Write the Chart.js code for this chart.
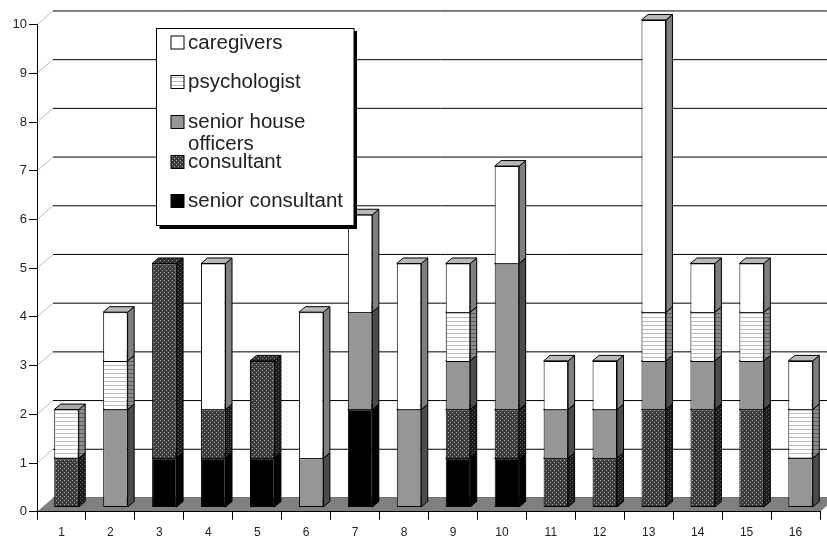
<!DOCTYPE html>
<html>
<head>
<meta charset="utf-8">
<style>
  html, body { margin: 0; padding: 0; background: #fff; }
  canvas { display: block; filter: blur(0.45px); }
</style>
<script src="https://cdn.jsdelivr.net/npm/chart.js@4/dist/chart.umd.js"></script>
</head>
<body>
<canvas id="myChart" width="827" height="536"></canvas>
<script>
const patients = ["1","2","3","4","5","6","7","8","9","10","11","12","13","14","15","16"];
const seniorConsultant = [null,null,1,1,1,null,2,null,1,1,null,null,null,null,null,null];
const consultant = [1,null,4,1,2,null,null,null,1,1,1,1,2,2,2,null];
const seniorHouseOfficers = [null,2,null,null,null,1,2,2,1,3,1,1,1,1,1,1];
const psychologist = [1,1,null,null,null,null,null,null,1,null,null,null,1,1,1,1];
const caregivers = [null,1,null,3,null,3,2,3,1,2,1,1,6,1,1,1];
const yTicks = [0,1,2,3,4,5,6,7,8,9,10];

const FONT = "'Liberation Sans', Arial, sans-serif";
const wallDx = 16;
const barShift = 5;
const depthX = 6.5;
const depthY = 5.5;

function makePattern(size, paint) {
  const c = document.createElement("canvas");
  c.width = size;
  c.height = size;
  paint(c.getContext("2d"));
  return document.createElement("canvas").getContext("2d").createPattern(c, "repeat");
}
function stripes(bg, line) {
  return makePattern(4, g => {
    g.fillStyle = bg; g.fillRect(0, 0, 4, 4);
    g.fillStyle = line; g.fillRect(0, 1, 4, 1);
  });
}
function dots(bg, dot) {
  return makePattern(4, g => {
    g.fillStyle = bg; g.fillRect(0, 0, 4, 4);
    g.fillStyle = dot; g.fillRect(0, 0, 1, 1); g.fillRect(2, 2, 1, 1);
  });
}

const styles = {
  caregivers: { front: "#ffffff", side: "#7f7f7f", top: "#b8b8b8" },
  psychologist: { front: stripes("#ffffff", "#bcbcbc"), side: stripes("#8c8c8c", "#5a5a5a"), top: "#a8a8a8" },
  sho: { front: "#969696", side: "#4b4b4b", top: "#707070" },
  consultant: { front: dots("#3c3c3c", "#a8a8a8"), side: dots("#1c1c1c", "#666666"), top: dots("#333333", "#888888") },
  senior: { front: "#000000", side: "#000000", top: "#000000" }
};

const series = [
  { label: "senior consultant", data: seniorConsultant, face: styles.senior },
  { label: "consultant", data: consultant, face: styles.consultant },
  { label: "senior house officers", data: seniorHouseOfficers, face: styles.sho },
  { label: "psychologist", data: psychologist, face: styles.psychologist },
  { label: "caregivers", data: caregivers, face: styles.caregivers }
];

// only the lowest segment of a stack keeps its bottom edge, the others share one line
function skipEdge(c) {
  const lower = series.slice(0, c.datasetIndex).some(s => s.data[c.dataIndex] !== null);
  return lower ? "bottom" : false;
}

const datasets = series.map(d => ({
  label: d.label,
  data: d.data,
  face: d.face,
  yAxisID: "yBar",
  backgroundColor: d.face.front,
  borderColor: "#000",
  borderWidth: 1,
  borderSkipped: skipEdge,
  barPercentage: 0.5,
  categoryPercentage: 1,
  clip: false
}));

const legendRows = [
  { lines: ["caregivers"], y: 42.5, face: styles.caregivers.front },
  { lines: ["psychologist"], y: 82, face: styles.psychologist.front },
  { lines: ["senior house", "officers"], y: 122, face: styles.sho.front },
  { lines: ["consultant"], y: 162, face: styles.consultant.front },
  { lines: ["senior consultant"], y: 201, face: styles.senior.front }
];

const bars3d = {
  id: "bars3d",
  afterDatasetsUpdate(chart) {
    chart.data.datasets.forEach((ds, i) => {
      chart.getDatasetMeta(i).data.forEach(el => { el.x += barShift; });
    });
  },
  beforeDraw(chart) {
    const { ctx, scales } = chart;
    const y = scales.y, wall = scales.yWall, area = chart.chartArea;
    ctx.save();
    // wall lines and the light diagonals on the left side
    yTicks.forEach(v => {
      ctx.strokeStyle = "#000";
      ctx.lineWidth = 1;
      ctx.beginPath();
      ctx.moveTo(area.left + wallDx, wall.getPixelForValue(v));
      ctx.lineTo(area.right + wallDx, wall.getPixelForValue(v));
      ctx.stroke();
      if (v > 0) {
        ctx.strokeStyle = "#bdbdbd";
        ctx.beginPath();
        ctx.moveTo(area.left, y.getPixelForValue(v));
        ctx.lineTo(area.left + wallDx, wall.getPixelForValue(v));
        ctx.stroke();
      }
    });
    // floor
    ctx.fillStyle = "#7f7f7f";
    ctx.beginPath();
    ctx.moveTo(area.left, y.getPixelForValue(0));
    ctx.lineTo(area.left + wallDx, wall.getPixelForValue(0));
    ctx.lineTo(area.right + wallDx, wall.getPixelForValue(0));
    ctx.lineTo(area.right, y.getPixelForValue(0));
    ctx.closePath();
    ctx.fill();
    ctx.restore();
  },
  beforeDatasetsDraw(chart) {
    const ctx = chart.ctx;
    ctx.save();
    ctx.strokeStyle = "#000";
    ctx.lineWidth = 1;
    chart.data.datasets.forEach((ds, i) => {
      chart.getDatasetMeta(i).data.forEach((el, n) => {
        if (ds.data[n] === null) return;
        const r = el.x + el.width / 2, l = el.x - el.width / 2;
        ctx.fillStyle = ds.face.side;
        ctx.beginPath();
        ctx.moveTo(r, el.base);
        ctx.lineTo(r + depthX, el.base - depthY);
        ctx.lineTo(r + depthX, el.y - depthY);
        ctx.lineTo(r, el.y);
        ctx.closePath();
        ctx.fill();
        ctx.stroke();
        ctx.fillStyle = ds.face.top;
        ctx.beginPath();
        ctx.moveTo(l, el.y);
        ctx.lineTo(l + depthX, el.y - depthY);
        ctx.lineTo(r + depthX, el.y - depthY);
        ctx.lineTo(r, el.y);
        ctx.closePath();
        ctx.fill();
        ctx.stroke();
      });
    });
    ctx.restore();
  },
  afterDraw(chart) {
    const ctx = chart.ctx;
    ctx.save();
    ctx.fillStyle = "#000";
    ctx.fillRect(159.5, 31, 197.5, 198);
    ctx.fillStyle = "#fff";
    ctx.strokeStyle = "#000";
    ctx.lineWidth = 1;
    ctx.fillRect(156.5, 28.5, 197.5, 197);
    ctx.strokeRect(156.5, 28.5, 197.5, 197);
    ctx.font = "20.5px " + FONT;
    ctx.textBaseline = "middle";
    legendRows.forEach(row => {
      ctx.fillStyle = row.face;
      ctx.fillRect(171, row.y - 6.5, 13, 13);
      ctx.strokeRect(171, row.y - 6.5, 13, 13);
      ctx.fillStyle = "#222";
      row.lines.forEach((t, k) => ctx.fillText(t, 188, row.y + 0.5 + k * 22));
    });
    ctx.restore();
  }
};

new Chart(document.getElementById("myChart"), {
  type: "bar",
  data: { labels: patients, datasets: datasets },
  plugins: [bars3d],
  options: {
    responsive: false,
    animation: false,
    devicePixelRatio: 1,
    layout: { autoPadding: false, padding: { top: 24.7, right: 7, left: 0, bottom: 0 } },
    plugins: { legend: { display: false }, tooltip: { enabled: false } },
    scales: {
      x: {
        stacked: true,
        border: { color: "#000", width: 1 },
        grid: { drawOnChartArea: false, color: "#000", tickLength: 8 },
        ticks: { color: "#222", font: { family: FONT, size: 12 }, maxRotation: 0, autoSkip: false, padding: 6 },
        afterFit(s) { s.height = 24.3; }
      },
      y: {
        min: 0,
        max: 10,
        border: { color: "#000", width: 1 },
        grid: { drawOnChartArea: false, color: "#000", tickLength: 8 },
        ticks: { stepSize: 1, color: "#222", font: { family: FONT, size: 13 }, padding: 2 },
        afterFit(s) { s.width = 37; }
      },
      // same units as y, moved back into the depth of the chart
      yBar: { display: false, stacked: true, min: -0.097, max: 9.903 },
      yWall: { display: false, min: -0.282, max: 9.718 }
    }
  }
});
</script>
</body>
</html>
